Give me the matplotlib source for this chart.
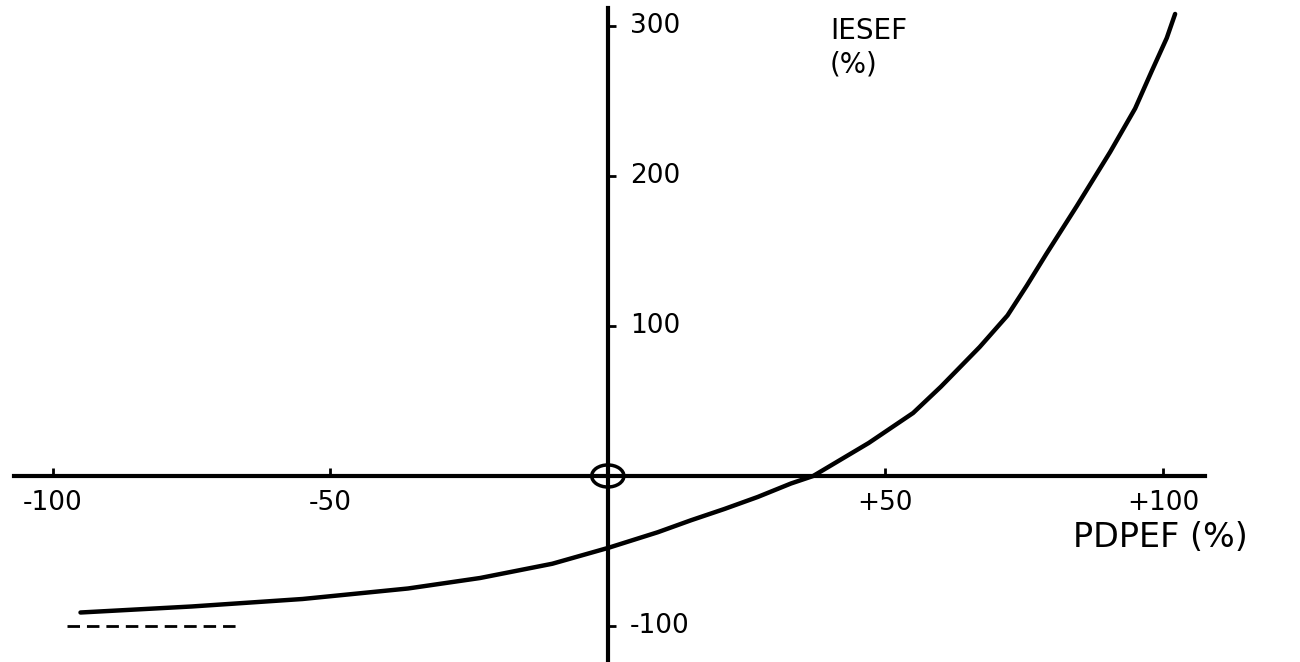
import numpy as np
import matplotlib
matplotlib.use("Agg")
import matplotlib.pyplot as plt
from matplotlib.patches import Ellipse

# valeurs (en %)
pdpef = [-95, -75, -55, -36, -23, -10, 0, 9, 15, 21, 27, 33, 37, 47, 55, 60, 67, 72, 75.5, 79, 84.5, 90.5, 95, 98, 100.7, 102.2]
iesef = [-91, -87, -82, -75, -68, -58.5, -48, -37.5, -29.5, -22, -14, -5, 0, 22, 42, 59.5, 86, 107, 127, 148, 180, 216, 245, 270, 292, 308]

x_ticks = [-100, -50, 50, 100]
x_tick_labels = ['-100', '-50', '+50', '+100']
y_ticks = [300, 200, 100, -100]
y_tick_labels = ['300', '200', '100', '-100']

# asymptote en pointillés
asymptote_x = [-97.5, -67]
asymptote_y = [-100, -100]

plt.rcParams['font.family'] = ['DejaVu Sans']

fig = plt.figure(figsize=(13, 6.62), dpi=100)
ax = fig.add_axes([0, 0, 1, 1])
ax.set_xlim(-109.5, 124.7)
ax.set_ylim(-124, 317.3)

# axes qui se croisent en zero
for side in ['top', 'right']:
    ax.spines[side].set_visible(False)
ax.spines['left'].set_position(('data', 0))
ax.spines['bottom'].set_position(('data', 0))
ax.spines['left'].set_bounds(-124, 312)
ax.spines['bottom'].set_bounds(-107, 107.5)
ax.spines['left'].set_linewidth(3)
ax.spines['bottom'].set_linewidth(3)

ax.set_xticks(x_ticks)
ax.set_yticks(y_ticks)
ax.set_xticklabels([])
ax.set_yticklabels([])
ax.tick_params(direction='in', length=6, width=2)

for xt, lab in zip(x_ticks, x_tick_labels):
    ax.text(xt, -18, lab, ha='center', va='center', fontsize=19)
for yt, lab in zip(y_ticks, y_tick_labels):
    ax.text(4, yt, lab, ha='left', va='center', fontsize=19)

ax.plot(pdpef, iesef, color='black', lw=3.2, solid_capstyle='round', solid_joinstyle='round')
ax.plot(asymptote_x, asymptote_y, color='black', lw=2, dashes=(4.5, 2.5))

ax.add_patch(Ellipse((0, 0), 5.8, 14.7, fill=False, lw=2.5, color='black'))

ax.text(40, 306, 'IESEF\n(%)', ha='left', va='top', fontsize=20, linespacing=1.25)
ax.text(99.5, -41, 'PDPEF (%)', ha='center', va='center', fontsize=24)

fig.savefig('out.png', dpi=100)
